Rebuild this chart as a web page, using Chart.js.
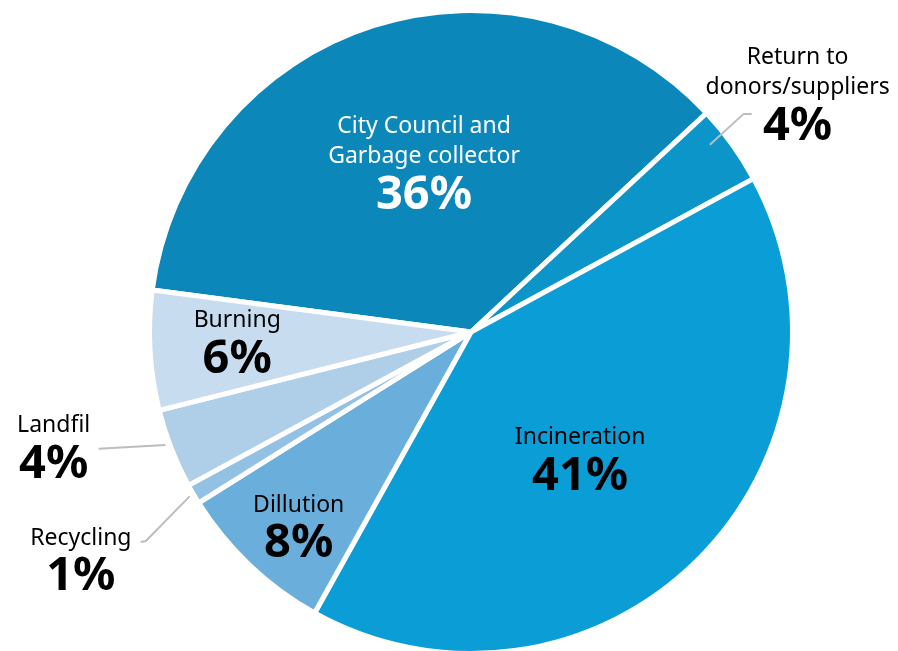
<!DOCTYPE html>
<html>
<head>
<meta charset="utf-8">
<script src="https://cdn.jsdelivr.net/npm/chart.js@4.4.1/dist/chart.umd.min.js"></script>
<style>
  html, body { margin: 0; padding: 0; background: #fff; overflow: hidden; }
  #wrap { position: relative; width: 898px; height: 670px; }
</style>
</head>
<body>
<div id="wrap"><canvas id="wasteChart"></canvas></div>
<script>
// waste disposal shares, in percent
const categories = [
    ["City Council and", "Garbage collector"],
    ["Return to", "donors/suppliers"],
    ["Incineration"],
    ["Dillution"],
    ["Recycling"],
    ["Landfil"],
    ["Burning"]
];
const shares = [36, 4, 41, 8, 1, 4, 6];
const sliceColors = ["#0b88b9", "#0c95c9", "#0b9dd6", "#6aafdc", "#92c1e3", "#afcee8", "#c7dcef"];

// where each label sits: angle nudge (deg) from the slice middle, distance in radii
const labelSpots = [
    { da: 2.9, r: 0.575, color: "#fff" },
    { da: -1.3, r: 1.28, color: "#000", leader: { at: -2.4, ar: 0.95, pts: [[-54, 26], [-46, 26]] } },
    { da: -1.9, r: 0.47, color: "#000" },
    { da: 1.7, r: 0.76, color: "#000" },
    { da: 2.7, r: 1.378, color: "#000", leader: { at: 0, ar: 1.02, pts: [[65, 3], [60, 4]] } },
    { da: 8.9, r: 1.3375, color: "#000", leader: { at: 1, ar: 1.02, pts: [[45, 23]] } },
    { da: 6.7, r: 0.733, color: "#000" }
];

const labelFont = "'Noto Sans'";

const sliceLabels = {
    id: "sliceLabels",
    afterDatasetsDraw: function (chart) {
        const ctx = chart.ctx;
        const arcs = chart.getDatasetMeta(0).data;
        arcs.forEach(function (arc, i) {
            const p = arc.getProps(["x", "y", "startAngle", "endAngle", "outerRadius"], true);
            const R = p.outerRadius - 2;
            const mid = (p.startAngle + p.endAngle) / 2;
            const spot = labelSpots[i];
            const a = mid + spot.da * Math.PI / 180;
            const tx = p.x + Math.cos(a) * R * spot.r;
            const ty = p.y + Math.sin(a) * R * spot.r + 2;

            if (spot.leader) {
                const la = mid + spot.leader.at * Math.PI / 180;
                ctx.save();
                ctx.strokeStyle = "#bdbdbd";
                ctx.lineWidth = 2;
                ctx.beginPath();
                ctx.moveTo(p.x + Math.cos(la) * R * spot.leader.ar, p.y + Math.sin(la) * R * spot.leader.ar);
                spot.leader.pts.forEach(function (pt) {
                    ctx.lineTo(tx + pt[0], ty + pt[1]);
                });
                ctx.stroke();
                ctx.restore();
            }

            ctx.save();
            ctx.fillStyle = spot.color;
            ctx.textAlign = "center";
            ctx.textBaseline = "middle";
            ctx.font = "23px " + labelFont;
            const lines = categories[i];
            lines.forEach(function (line, k) {
                ctx.fillText(line, tx, ty - (lines.length - 1 - k) * 30);
            });
            ctx.font = "bold 47px " + labelFont;
            ctx.fillText(shares[i] + "%", tx, ty + 39);
            ctx.restore();
        });
    }
};

new Chart(document.getElementById("wasteChart"), {
    type: "pie",
    data: {
        labels: categories.map(function (c) { return c.join(" "); }),
        datasets: [{
            data: shares,
            backgroundColor: sliceColors,
            borderColor: "#ffffff",
            borderWidth: 5
        }]
    },
    options: {
        responsive: true,
        maintainAspectRatio: false,
        animation: false,
        rotation: -82.5,
        layout: {
            padding: { top: 8, bottom: 14, left: 147, right: 103 }
        },
        plugins: {
            legend: { display: false },
            tooltip: { enabled: false }
        }
    },
    plugins: [sliceLabels]
});
</script>
</body>
</html>
